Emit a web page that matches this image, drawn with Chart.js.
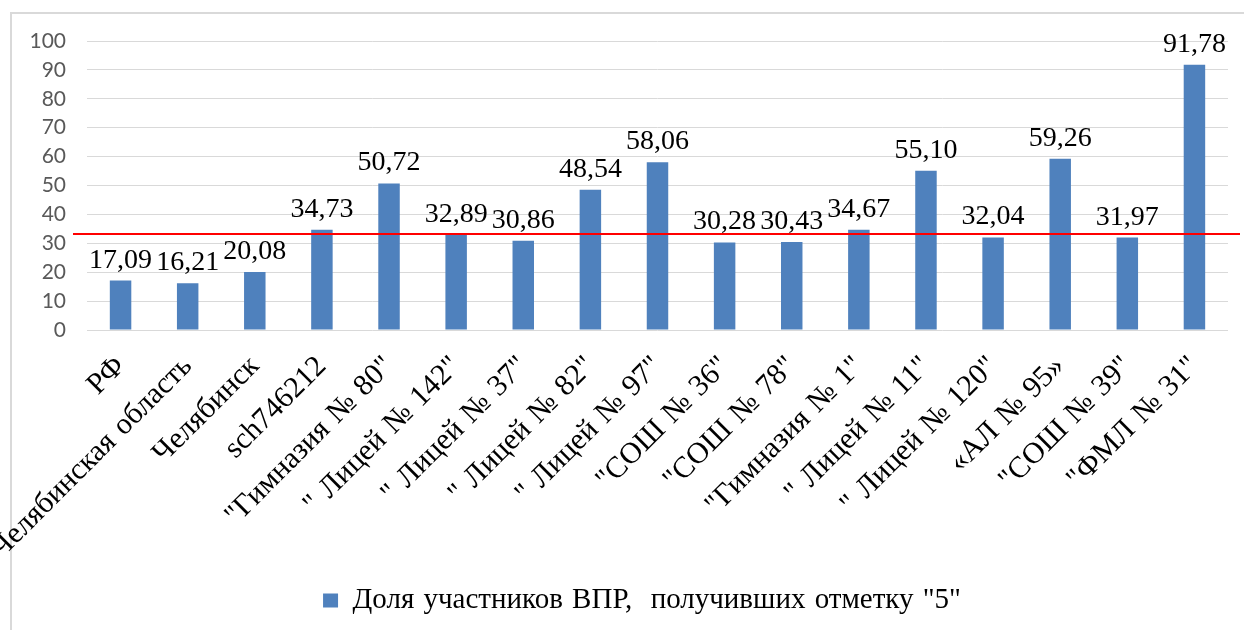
<!DOCTYPE html>
<html>
<head>
<meta charset="utf-8">
<script src="https://cdn.jsdelivr.net/npm/chart.js@4.4.0/dist/chart.umd.min.js"></script>
<style>
    html, body { margin: 0; padding: 0; background: #fff; overflow: hidden; }
    .wrap { position: relative; width: 1244px; height: 630px; }
    .frame { position: absolute; left: 10px; top: 12px; width: 1300px; height: 700px; border: 2px solid #d9d9d9; box-sizing: border-box; }
    canvas { position: absolute; left: 0; top: 0; }
    .preload { position: absolute; left: -9999px; top: 0; }
</style>
</head>
<body>
<div class="wrap">
    <div class="frame"></div>
    <canvas id="vprChart" width="1244" height="630"></canvas>
</div>
<span class="preload" style="font-family: 'Liberation Serif'">Доля 123</span>
<span class="preload" style="font-family: 'Lato'">123</span>
<script>
const categories = [
    'РФ', 'Челябинская область', 'Челябинск', 'sch746212',
    '"Гимназия № 80"', '" Лицей № 142"', '" Лицей № 37"', '" Лицей № 82"',
    '" Лицей № 97"', '"СОШ № 36"', '"СОШ № 78"', '"Гимназия № 1"',
    '" Лицей № 11"', '" Лицей № 120"', '«АЛ № 95»', '"СОШ № 39"', '"ФМЛ № 31"'
];
const shareOfFives = [17.09, 16.21, 20.08, 34.73, 50.72, 32.89, 30.86, 48.54, 58.06,
    30.28, 30.43, 34.67, 55.10, 32.04, 59.26, 31.97, 91.78];
const yTicks = [0, 10, 20, 30, 40, 50, 60, 70, 80, 90, 100];
const referenceLevel = 33.2;
const seriesName = 'Доля участников ВПР,  получивших отметку "5"';

const serif = "'Liberation Serif', 'DejaVu Serif', serif";

// the source text has slightly wide gaps between words
const wideWords = {
    id: 'wideWords',
    beforeUpdate(chart) { chart.ctx.wordSpacing = '2px'; },
    beforeDraw(chart) { chart.ctx.wordSpacing = '2px'; }
};

// legend in the source sits a bit right of the canvas centre
const legendShift = {
    id: 'legendShift',
    afterLayout(chart) {
        if (chart.legend) chart.legend.left += 56;
    }
};

// value labels above bars, comma decimal like in the source
const valueLabels = {
    id: 'valueLabels',
    afterDatasetsDraw(chart) {
        const ctx = chart.ctx;
        const meta = chart.getDatasetMeta(0);
        ctx.save();
        ctx.font = '28px ' + serif;
        ctx.fillStyle = '#000';
        ctx.textAlign = 'center';
        ctx.textBaseline = 'alphabetic';
        meta.data.forEach((bar, i) => {
            const txt = shareOfFives[i].toFixed(2).replace('.', ',');
            ctx.fillText(txt, bar.x, bar.y - 13);
        });
        ctx.restore();
    }
};

// red horizontal reference line, runs a bit past the plot on both sides
const refLine = {
    id: 'refLine',
    afterDatasetsDraw(chart) {
        const ctx = chart.ctx;
        const y = chart.scales.y.getPixelForValue(referenceLevel);
        ctx.save();
        ctx.strokeStyle = '#ff0000';
        ctx.lineWidth = 2;
        ctx.beginPath();
        ctx.moveTo(chart.chartArea.left - 14, y);
        ctx.lineTo(chart.width - 4, y);
        ctx.stroke();
        ctx.restore();
    }
};

function buildChart() {
    const ctx = document.getElementById('vprChart').getContext('2d');
    return new Chart(ctx, {
        type: 'bar',
        data: {
            labels: categories,
            datasets: [{
                label: seriesName,
                data: shareOfFives,
                backgroundColor: '#4f81bd',
                borderWidth: 0,
                categoryPercentage: 1,
                barPercentage: 0.32
            }]
        },
        options: {
            responsive: false,
            animation: false,
            layout: {
                padding: { top: 41, right: 16, bottom: 5, left: 0 }
            },
            scales: {
                x: {
                    grid: { display: false },
                    border: { display: false },
                    ticks: {
                        maxRotation: 45,
                        minRotation: 45,
                        autoSkip: false,
                        padding: 11,
                        color: '#000',
                        font: { family: serif, size: 30 }
                    },
                    afterFit(scale) { scale.height = 246; }
                },
                y: {
                    min: 0,
                    max: 100,
                    afterBuildTicks(scale) {
                        scale.ticks = yTicks.map(v => ({ value: v }));
                    },
                    grid: { color: '#d9d9d9', lineWidth: 1, drawTicks: false },
                    border: { display: false },
                    ticks: {
                        padding: 21,
                        color: '#595959',
                        font: { family: 'Lato, sans-serif', size: 21 }
                    },
                    afterFit(scale) { scale.width = 87; }
                }
            },
            plugins: {
                legend: {
                    position: 'bottom',
                    labels: {
                        boxWidth: 15,
                        boxHeight: 14,
                        padding: 10,
                        color: '#000',
                        font: { family: serif, size: 29 }
                    }
                }
            }
        },
        plugins: [wideWords, legendShift, valueLabels, refLine]
    });
}

Promise.all([
    document.fonts.load("28px 'Liberation Serif'"),
    document.fonts.load("21px 'Lato'")
]).catch(() => {}).then(buildChart);
</script>
</body>
</html>
